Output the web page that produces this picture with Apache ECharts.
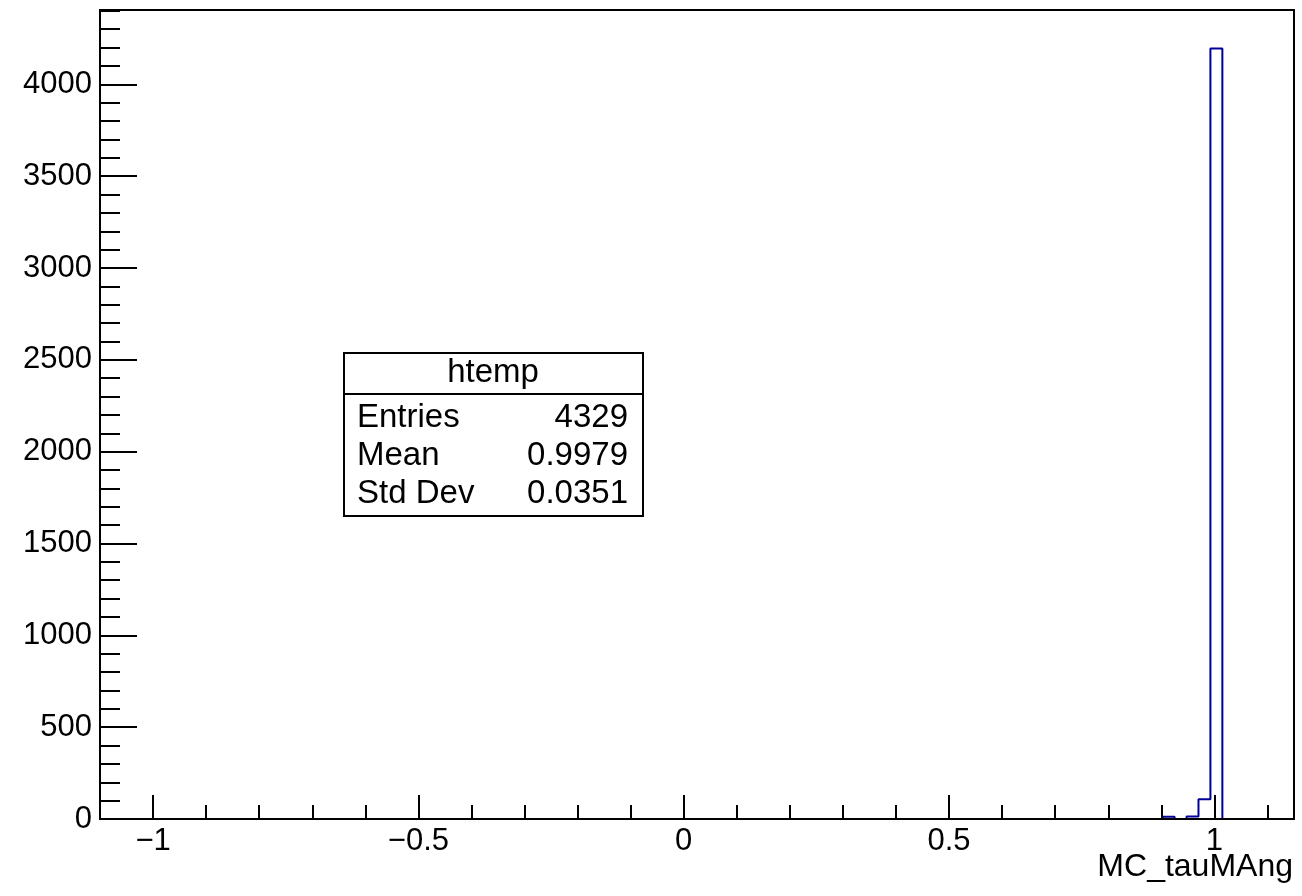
<!DOCTYPE html>
<html>
<head>
<meta charset="utf-8">
<script src="https://cdn.jsdelivr.net/npm/echarts@6/dist/echarts.min.js"></script>
<style>
  html, body { margin: 0; padding: 0; background: #ffffff; }
  #chart { width: 1302px; height: 896px; }
</style>
</head>
<body>
<div id="chart"></div>
<script>
// Histogram of MC_tauMAng: bin edges and counts of the filled bins
const binEdges = [0.9025, 0.925, 0.9475, 0.97, 0.9925, 1.015];
const binCounts = [12, 0, 14, 108, 4195];

// Axis range and tick values
const xRange = [-1.1, 1.15];
const xMajorTicks = [-1, -0.5, 0, 0.5, 1];
const xMinorTicks = [-1.1, -1.0, -0.9, -0.8, -0.7, -0.6, -0.5, -0.4, -0.3, -0.2, -0.1, 0,
                     0.1, 0.2, 0.3, 0.4, 0.5, 0.6, 0.7, 0.8, 0.9, 1.0, 1.1];
const yMajorTicks = [0, 500, 1000, 1500, 2000, 2500, 3000, 3500, 4000];
const yMinorStep = 100;

// Statistics box
const statsTitle = 'htemp';
const statsLabels = ['Entries', 'Mean', 'Std Dev'];
const statsValues = ['4329', '0.9979', '0.0351'];
const xTitle = 'MC_tauMAng';

const FONT = "'Liberation Sans', Arial, Helvetica, sans-serif";
const yMax = Math.max(...binCounts) * 1.05;

const yMinorTicks = [];
for (let v = 0; v <= yMax; v += yMinorStep) yMinorTicks.push(v);

// Outline of the histogram as a stepped polyline
const outline = [[binEdges[0], 0]];
binCounts.forEach((c, i) => outline.push([binEdges[i], c]));
outline.push([binEdges[binEdges.length - 1], 0]);

const fmtX = v => (v < 0 ? '\u2212' + String(Math.abs(v)) : String(v));
const fmtY = v => String(Math.round(v));

const chart = echarts.init(document.getElementById('chart'), null, { renderer: 'canvas' });

const grid = { left: 100, top: 10, width: 1194, height: 809, show: true,
               borderColor: '#000', borderWidth: 2, backgroundColor: 'transparent' };

const STATS_FS = 33;
const statsGraphics = [
  { type: 'rect', z: 100, shape: { x: 344, y: 353, width: 299, height: 163 },
    style: { fill: '#fff', stroke: '#000', lineWidth: 2 } },
  { type: 'line', z: 101, shape: { x1: 344, y1: 394, x2: 643, y2: 394 },
    style: { stroke: '#000', lineWidth: 2 } },
  { type: 'text', z: 102, x: 493, y: 373,
    style: { text: statsTitle, fontFamily: FONT, fontSize: STATS_FS, fill: '#000',
             align: 'center', verticalAlign: 'middle' } }
];
statsLabels.forEach((lab, i) => {
  const y = 418 + i * 38;
  statsGraphics.push({ type: 'text', z: 102, x: 357, y: y,
    style: { text: lab, fontFamily: FONT, fontSize: STATS_FS, fill: '#000', align: 'left', verticalAlign: 'middle' } });
  statsGraphics.push({ type: 'text', z: 102, x: 628, y: y,
    style: { text: statsValues[i], fontFamily: FONT, fontSize: STATS_FS, fill: '#000', align: 'right', verticalAlign: 'middle' } });
});

const option = {
  animation: false,
  backgroundColor: '#fff',
  grid: grid,
  xAxis: [
    { type: 'value', position: 'bottom', min: xRange[0], max: xRange[1], z: 5,
      axisLine: { show: true, onZero: false, lineStyle: { color: '#000', width: 2 } },
      axisTick: { show: true, inside: true, length: 14, customValues: xMinorTicks,
                  lineStyle: { color: '#000', width: 2 } },
      axisLabel: { show: false }, splitLine: { show: false } },
    { type: 'value', position: 'bottom', min: xRange[0], max: xRange[1], z: 5,
      axisLine: { show: false, onZero: false },
      axisTick: { show: true, inside: true, length: 24, customValues: xMajorTicks,
                  lineStyle: { color: '#000', width: 2 } },
      axisLabel: { show: true, customValues: xMajorTicks, formatter: fmtX, margin: 7,
                   color: '#000', fontFamily: FONT, fontSize: 31 },
      splitLine: { show: false } }
  ],
  yAxis: [
    { type: 'value', position: 'left', min: 0, max: yMax, z: 5,
      axisLine: { show: true, onZero: false, lineStyle: { color: '#000', width: 2 } },
      axisTick: { show: true, inside: true, length: 20, customValues: yMinorTicks,
                  lineStyle: { color: '#000', width: 2 } },
      axisLabel: { show: false }, splitLine: { show: false } },
    { type: 'value', position: 'left', min: 0, max: yMax, z: 5,
      axisLine: { show: false, onZero: false },
      axisTick: { show: true, inside: true, length: 37, customValues: yMajorTicks,
                  lineStyle: { color: '#000', width: 2 } },
      axisLabel: { show: true, customValues: yMajorTicks, formatter: fmtY, margin: 8,
                   color: '#000', fontFamily: FONT, fontSize: 31 },
      splitLine: { show: false } }
  ],
  series: [
    { type: 'line', name: statsTitle, xAxisIndex: 0, yAxisIndex: 0, z: 2,
      step: 'end', data: outline, symbol: 'none',
      lineStyle: { color: '#000099', width: 2 }, silent: true }
  ],
  graphic: statsGraphics.concat([
    { type: 'text', z: 50, x: 1293, y: 867,
      style: { text: xTitle, fontFamily: FONT, fontSize: 32, fill: '#000',
               align: 'right', verticalAlign: 'middle' } }
  ])
};

chart.setOption(option);
</script>
</body>
</html>
